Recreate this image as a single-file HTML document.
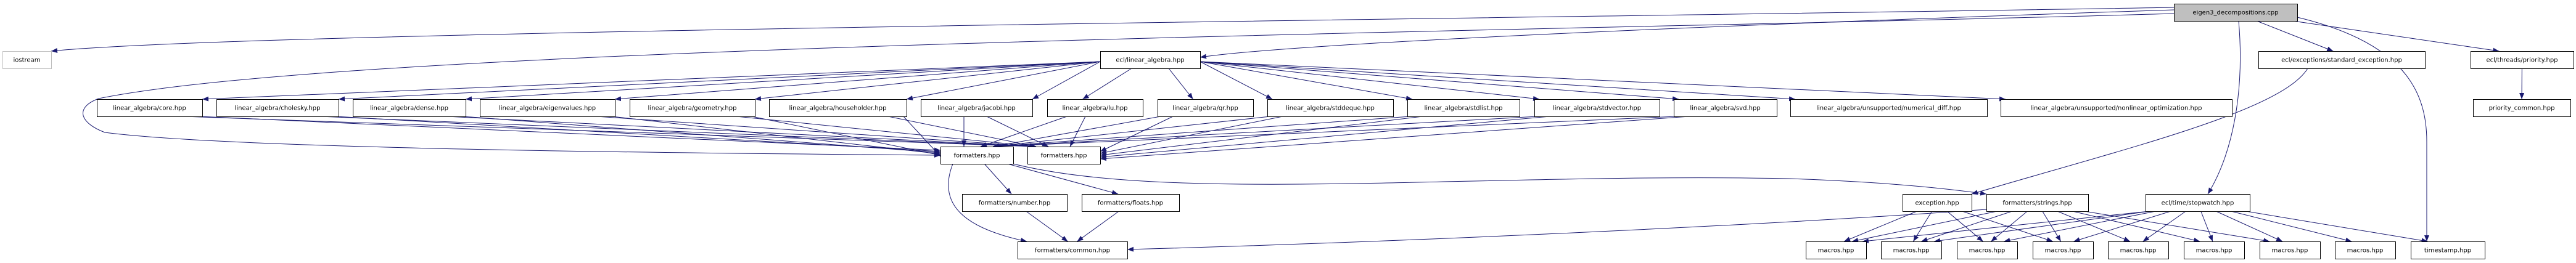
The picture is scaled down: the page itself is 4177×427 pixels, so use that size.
<!DOCTYPE html>
<html><head><meta charset="utf-8"><style>
html,body{margin:0;padding:0;background:#fff;}
svg{display:block}
text{font-family:"DejaVu Sans","Liberation Sans",sans-serif;font-size:10px;fill:#000}
</style></head><body>
<svg id="g" width="4177" height="427" viewBox="0 0 4177 427" xmlns="http://www.w3.org/2000/svg">
<defs><marker id="a" viewBox="0 0 10 8" refX="10" refY="4" markerWidth="10" markerHeight="8" markerUnits="userSpaceOnUse" orient="auto"><path d="M0,0L10,4L0,8z" fill="#191970"/></marker></defs>
<g id="e" fill="none" stroke="#191970" stroke-width="1"></g>
<g id="n"></g>
</svg>
<script>
var N={
main:[3525,6,3725,34,"eigen3_decompositions.cpp",1],
io:[4,83,83,111,"iostream",2],
la:[1784,83,1946,111,"ecl/linear_algebra.hpp"],
se:[3662,83,3932,111,"ecl/exceptions/standard_exception.hpp"],
pr:[4006,83,4173,111,"ecl/threads/priority.hpp"],
core:[157,161,328,189,"linear_algebra/core.hpp"],
chol:[351,161,549,189,"linear_algebra/cholesky.hpp"],
dense:[572,161,755,189,"linear_algebra/dense.hpp"],
eig:[778,161,997,189,"linear_algebra/eigenvalues.hpp"],
geo:[1021,161,1224,189,"linear_algebra/geometry.hpp"],
hh:[1247,161,1470,189,"linear_algebra/householder.hpp"],
jac:[1493,161,1674,189,"linear_algebra/jacobi.hpp"],
lu:[1698,161,1853,189,"linear_algebra/lu.hpp"],
qr:[1877,161,2032,189,"linear_algebra/qr.hpp"],
sdq:[2055,161,2259,189,"linear_algebra/stddeque.hpp"],
sl:[2282,161,2464,189,"linear_algebra/stdlist.hpp"],
sv:[2488,161,2691,189,"linear_algebra/stdvector.hpp"],
svd:[2714,161,2881,189,"linear_algebra/svd.hpp"],
nd:[2903,161,3222,189,"linear_algebra/unsupported/numerical_diff.hpp"],
no:[3244,161,3619,189,"linear_algebra/unsupported/nonlinear_optimization.hpp"],
pc:[4010,161,4168,189,"priority_common.hpp"],
f1:[1525,238,1643,266,"formatters.hpp"],
f2:[1666,238,1784,266,"formatters.hpp"],
num:[1560,315,1730,343,"formatters/number.hpp"],
fl:[1754,315,1912,343,"formatters/floats.hpp"],
ex:[3085,315,3197,343,"exception.hpp"],
st:[3221,315,3386,343,"formatters/strings.hpp"],
sw:[3479,315,3648,343,"ecl/time/stopwatch.hpp"],
com:[1650,392,1828,420,"formatters/common.hpp"],
m1:[2928,392,3026,420,"macros.hpp"],m2:[3050,392,3148,420,"macros.hpp"],m3:[3173,392,3271,420,"macros.hpp"],
m4:[3296,392,3394,420,"macros.hpp"],m5:[3418,392,3516,420,"macros.hpp"],m6:[3541,392,3639,420,"macros.hpp"],
m7:[3664,392,3762,420,"macros.hpp"],m8:[3786,392,3884,420,"macros.hpp"],
ts:[3909,392,4029,420,"timestamp.hpp"]};
var E=document.getElementById('e'),G=document.getElementById('n');
function P(d){var p=document.createElementNS('http://www.w3.org/2000/svg','path');p.setAttribute('d',d);p.setAttribute('marker-end','url(#a)');E.appendChild(p);}
function L(x1,y1,x2,y2,c){if(c){P('M'+x1+','+y1+' Q'+c[0]+','+c[1]+' '+x2+','+y2);}else P('M'+x1+','+y1+' L'+x2+','+y2);}
function ed(s,t){var a=N[s],b=N[t];var x1=(a[0]+a[2])/2,y1=a[3],x2=(b[0]+b[2])/2,y2=b[1];
 var dx=x2-x1;x1+=Math.max(-(a[2]-a[0])/2+6,Math.min((a[2]-a[0])/2-6,dx*0.2));
 x2=Math.max(b[0]+6,Math.min(b[2]-6,x2-dx*0.08));
 L(x1,y1,x2,y2);}
var row=['core','chol','dense','eig','geo','hh','jac','lu','qr','sdq','sl','sv','svd','nd','no'];
// main edges
P('M3525,12 C2500,30 400,50 83,83');
P('M3525,16 C2800,40 2100,70 1946,93');
P('M3525,22 C2600,50 600,70 160,160 C120,175 130,200 170,215 C400,245 1300,250 1525,252');
ed('main','se');ed('main','pr');
P('M3630,34 C3640,150 3620,250 3580,315');
P('M3725,28 C3900,70 3935,150 3935,230 L3935,392');
// la edges
row.forEach(function(r){var b=N[r];var tx,sx,sy;
 if(b[2]<1784){tx=b[2];sx=1784;sy=100;}
 else if(b[0]>1946){tx=b[0]+8;sx=1946;sy=100;}
 else {tx=(b[0]+b[2])/2-20;sx=tx<1865?1835:1895;sy=111;}
 L(sx,sy,tx,161);});
// row -> formatters
row.slice(0,13).forEach(function(r,i){var b=N[r];
 if(b[2]<1525){
  L(b[2]-5,189,1525,244+i*2);
  L(b[2]-30,189,1680,238);
 } else if(r=='jac'){L(1563,189,1563,238);L(1600,189,1700,238);}
 else if(r=='lu'){L(1730,189,1590,238);L(1760,189,1735,238);}
 else {
  L(b[0]+5,189,1610,238);
  L(b[0]+25,189,1784,246+(i-8)*3);
 }});
ed('f1','num');ed('f1','fl');
P('M1545,266 C1520,330 1560,370 1665,392');
P('M1643,266 C1900,330 2400,280 2900,290 C3050,295 3150,305 3221,315');
ed('num','com');ed('fl','com');
P('M3221,340 C2800,370 2200,395 1828,405');
P('M3742,111 C3700,180 3450,240 3197,315');
ed('pr','pc');
['m1','m2','m3','m4'].forEach(function(m){ed('ex',m)});
['m1','m2','m3','m4','m5','m6','m7'].forEach(function(m){ed('st',m)});
['m1','m2','m3','m4','m5','m6','m7','m8','ts'].forEach(function(m){ed('sw',m)});
// nodes
for(var k in N){var b=N[k];var r=document.createElementNS('http://www.w3.org/2000/svg','rect');
 r.setAttribute('x',b[0]+0.5);r.setAttribute('y',b[1]+0.5);r.setAttribute('width',b[2]-b[0]);r.setAttribute('height',b[3]-b[1]);
 r.setAttribute('fill',b[5]==1?'#bfbfbf':'#fff');r.setAttribute('stroke',b[5]==2?'#bfbfbf':'#000');G.appendChild(r);
 var t=document.createElementNS('http://www.w3.org/2000/svg','text');t.setAttribute('x',(b[0]+b[2])/2);t.setAttribute('y',(b[1]+b[3])/2+3.5);
 t.setAttribute('text-anchor','middle');t.textContent=b[4];G.appendChild(t);}
</script>
</body></html>
